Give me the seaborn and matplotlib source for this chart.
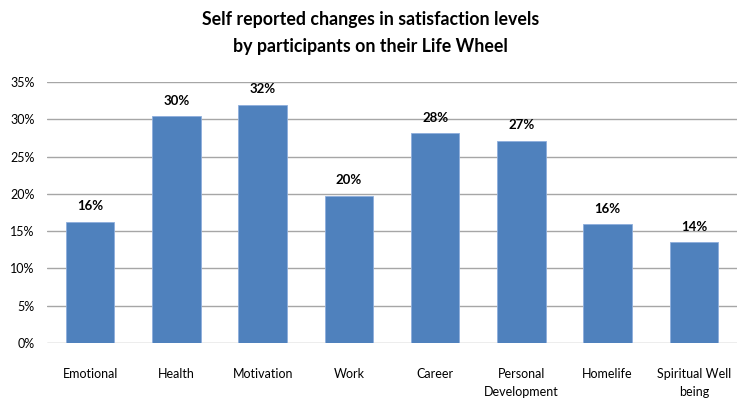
import matplotlib
matplotlib.use("Agg")
import matplotlib.pyplot as plt
import seaborn as sns
import pandas as pd
from matplotlib.ticker import FuncFormatter

categories = ["Emotional", "Health", "Motivation", "Work", "Career",
              "Personal\nDevelopment", "Homelife", "Spiritual Well\nbeing"]
values = [16.2, 30.4, 31.9, 19.7, 28.1, 27.1, 15.9, 13.5]
y_ticks = [0, 5, 10, 15, 20, 25, 30, 35]

df = pd.DataFrame({"area": categories, "change": values})

sns.set_theme(style="white")
plt.rcParams["font.family"] = ["Lato", "DejaVu Sans"]

fig = plt.figure(figsize=(7.41, 4.01), dpi=100)
ax = fig.add_axes([47 / 741, 1 - 343 / 401, 690 / 741, 261 / 401])

sns.barplot(data=df, x="area", y="change", color="#4F81BD", width=0.565,
            saturation=1, edgecolor="#8EAEDC", linewidth=0.6, ax=ax, zorder=3)

ax.set_ylim(0, 35)
ax.set_yticks(y_ticks)
ax.yaxis.set_major_formatter(FuncFormatter(lambda v, _: f"{v:.0f}%"))
ax.set_xlim(-0.5, len(categories) - 0.5)
ax.grid(axis="y", color="#A6A6A6", linewidth=1.0, zorder=0)
for s in ax.spines.values():
    s.set_visible(False)
ax.tick_params(axis="both", length=0, labelsize=9, colors="#000000")
ax.tick_params(axis="y", pad=9)
ax.tick_params(axis="x", pad=18)
ax.set_xlabel("")
ax.set_ylabel("")
for lbl in ax.get_xticklabels():
    lbl.set_linespacing(1.65)

for i, v in enumerate(values):
    ax.annotate(f"{round(v):.0f}%", xy=(i, v), xytext=(0, 7),
                textcoords="offset points", ha="center", va="bottom",
                fontsize=9.5, fontweight="bold", color="#000000")

fig.text(0.5, 1 - 33 / 401, "Self reported changes in satisfaction levels\nby participants on their Life Wheel",
         ha="center", va="center", fontsize=12.8, fontweight="bold",
         linespacing=1.75, color="#000000")

fig.savefig("out.png", dpi=100)
